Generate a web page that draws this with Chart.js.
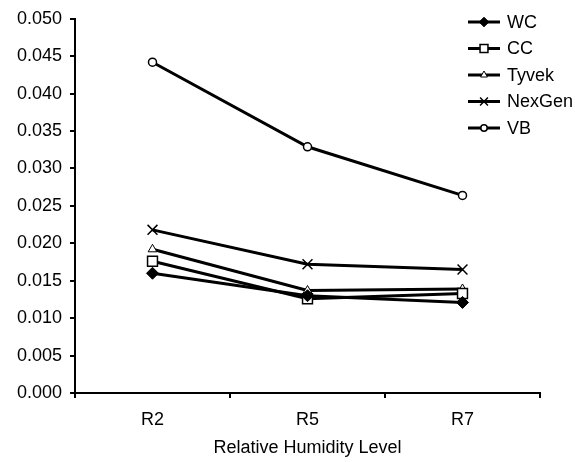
<!DOCTYPE html>
<html>
<head>
<meta charset="utf-8">
<script src="https://cdn.jsdelivr.net/npm/chart.js"></script>
<style>
  html, body { margin: 0; padding: 0; background: #fff; }
  #wrap { width: 575px; height: 462px; }
</style>
</head>
<body>
<div id="wrap"><canvas id="rhChart"></canvas></div>
<script>
// Relative humidity levels on the x axis
const levels = ['R2', 'R5', 'R7'];

// Series values
const wcValues     = [0.0160, 0.0130, 0.0121];
const ccValues     = [0.0176, 0.0126, 0.0133];
const tyvekValues  = [0.0192, 0.0137, 0.0139];
const nexgenValues = [0.0218, 0.0172, 0.0165];
const vbValues     = [0.0442, 0.0329, 0.0264];

const seriesNames = ['WC', 'CC', 'Tyvek', 'NexGen', 'VB'];

const FONT = 'Liberation Sans, Arial, sans-serif';

// marker look per series
const markers = {
    'WC':     { pointStyle: 'rectRot',  radius: 6, fill: '#000', border: 1 },
    'CC':     { pointStyle: 'rect',     radius: 7, fill: '#fff', border: 1.5 },
    'Tyvek':  { pointStyle: 'triangle', radius: 5, fill: '#fff', border: 1 },
    'NexGen': { pointStyle: 'crossRot', radius: 7, fill: '#fff', border: 1.5 },
    'VB':     { pointStyle: 'circle',   radius: 4, fill: '#fff', border: 1.5 }
};

function makeDataset(name, values) {
    const m = markers[name];
    return {
        label: name,
        data: values,
        borderColor: '#000',
        borderWidth: 3,
        tension: 0,
        fill: false,
        pointStyle: m.pointStyle,
        pointRadius: m.radius,
        pointHoverRadius: m.radius,
        pointBackgroundColor: m.fill,
        pointBorderColor: '#000',
        pointBorderWidth: m.border
    };
}

// legend sits inside the top right corner, over the plot
const floatingLegend = {
    id: 'floatingLegend',
    afterDraw(chart) {
        const ctx = chart.ctx;
        const x0 = 468, x1 = 500, textX = 507;
        const top = 22, step = 26.5;
        ctx.save();
        ctx.font = '18px ' + FONT;
        ctx.textBaseline = 'middle';
        ctx.fillStyle = '#000';
        chart.data.datasets.forEach((ds, i) => {
            const y = top + i * step;
            ctx.strokeStyle = '#000';
            ctx.lineWidth = 3;
            ctx.beginPath();
            ctx.moveTo(x0, y);
            ctx.lineTo(x1, y);
            ctx.stroke();
            const m = markers[ds.label];
            ctx.fillStyle = m.fill;
            ctx.strokeStyle = '#000';
            ctx.lineWidth = m.border;
            Chart.helpers.drawPoint(ctx, {
                pointStyle: m.pointStyle,
                radius: m.radius * 0.8,
                rotation: 0,
                borderWidth: m.border
            }, (x0 + x1) / 2, y);
            ctx.fillStyle = '#000';
            ctx.fillText(ds.label, textX, y + 1);
        });
        ctx.restore();
    }
};

const ctx = document.getElementById('rhChart').getContext('2d');
new Chart(ctx, {
    type: 'line',
    data: {
        labels: levels,
        datasets: [
            makeDataset('WC', wcValues),
            makeDataset('CC', ccValues),
            makeDataset('Tyvek', tyvekValues),
            makeDataset('NexGen', nexgenValues),
            makeDataset('VB', vbValues)
        ]
    },
    options: {
        responsive: true,
        maintainAspectRatio: false,
        animation: false,
        devicePixelRatio: 1,
        layout: {
            padding: { top: 5, right: 35, bottom: 0, left: 0 }
        },
        plugins: {
            legend: { display: false },
            tooltip: { enabled: false }
        },
        scales: {
            x: {
                type: 'category',
                offset: true,
                afterFit: function(scale) { scale.height = 69; },
                grid: {
                    offset: true,
                    drawOnChartArea: false,
                    drawTicks: true,
                    tickLength: 5,
                    color: '#000',
                    lineWidth: 2
                },
                border: { color: '#000', width: 2 },
                ticks: {
                    color: '#000',
                    padding: 11,
                    font: { family: FONT, size: 18 }
                },
                title: {
                    display: true,
                    text: 'Relative Humidity Level',
                    color: '#000',
                    padding: { top: 3, bottom: 3 },
                    font: { family: FONT, size: 18 }
                }
            },
            y: {
                min: 0,
                max: 0.05,
                afterFit: function(scale) { scale.width = 75; },
                grid: {
                    drawOnChartArea: false,
                    drawTicks: true,
                    tickLength: 5,
                    color: '#000',
                    lineWidth: 2
                },
                border: { color: '#000', width: 2 },
                ticks: {
                    stepSize: 0.005,
                    color: '#000',
                    padding: 8,
                    font: { family: FONT, size: 18 },
                    callback: function(value) { return value.toFixed(3); }
                }
            }
        }
    },
    plugins: [floatingLegend]
});
</script>
</body>
</html>
